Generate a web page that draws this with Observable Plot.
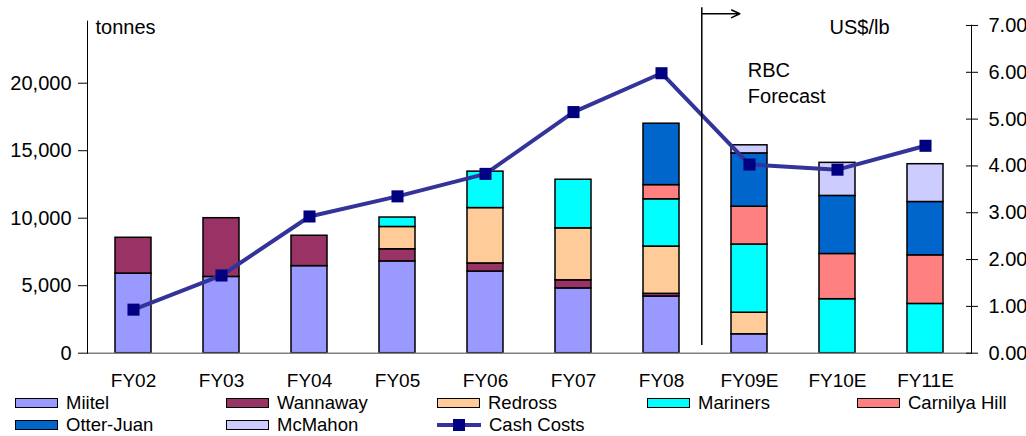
<!DOCTYPE html>
<html>
<head>
<meta charset="utf-8">
<script src="https://cdn.jsdelivr.net/npm/d3@7"></script>
<script src="https://cdn.jsdelivr.net/npm/@observablehq/plot@0.6"></script>
<style>
  html, body { margin: 0; padding: 0; background: #fff; }
  #wrap { width: 1026px; font-family: "Liberation Sans", Arial, sans-serif; }
  #legend { position: relative; width: 1026px; height: 41px; font-size: 18.5px; color: #000; }
  .item { position: absolute; display: flex; align-items: center; height: 20px; line-height: 20px; white-space: nowrap; }
  .sw { width: 41px; height: 8px; border: 1.5px solid #000; margin-right: 8px; }
  .ln { position: relative; width: 44px; height: 4px; margin-right: 8px; }
</style>
</head>
<body>
<div id="wrap"><div id="chart"></div><div id="legend"></div></div>
<script>
const years = ["FY02","FY03","FY04","FY05","FY06","FY07","FY08","FY09E","FY10E","FY11E"];
const mines = ["Miitel","Wannaway","Redross","Mariners","Carnilya Hill","Otter-Juan","McMahon"];
const mineColors = ["#9999FF","#993366","#FFCC99","#00FFFF","#FF8080","#0066CC","#CCCCFF"];
const miitel    = [5900, 5650, 6450, 6800, 6050, 4800, 4200, 1400,    0,    0];
const wannaway  = [2650, 4350, 2250,  900,  600,  600,  200,    0,    0,    0];
const redross   = [   0,    0,    0, 1650, 4100, 3850, 3500, 1600,    0,    0];
const mariners  = [   0,    0,    0,  700, 2700, 3600, 3500, 5050, 4000, 3650];
const carnilya  = [   0,    0,    0,    0,    0,    0, 1050, 2800, 3350, 3600];
const otterJuan = [   0,    0,    0,    0,    0,    0, 4550, 3950, 4300, 3950];
const mcmahon   = [   0,    0,    0,    0,    0,    0,    0,  600, 2450, 2800];
const cashCosts = [0.93, 1.66, 2.92, 3.35, 3.83, 5.15, 5.98, 4.03, 3.92, 4.43];
const leftTicks = [0, 5000, 10000, 15000, 20000];
const rightTicks = [0, 1, 2, 3, 4, 5, 6, 7];

const series = [miitel, wannaway, redross, mariners, carnilya, otterJuan, mcmahon];
const rows = [];
series.forEach((vals, si) => vals.forEach((v, i) => { if (v > 0) rows.push({year: years[i], mine: mines[si], value: v}); }));
const cash = years.map((y, i) => ({year: y, v: cashCosts[i]}));

// right axis (US$/lb) mapped onto left (tonnes) scale
const k = 3468.1;
const yMax = 24593;

const chart = Plot.plot({
  width: 1026,
  height: 393,
  marginLeft: 87,
  marginRight: 55,
  marginTop: 20.7,
  marginBottom: 40.3,
  style: {fontFamily: "Liberation Sans, Arial, sans-serif", fontSize: "19px", background: "white", color: "black"},
  x: {domain: years, paddingInner: 0.59, paddingOuter: 0.295, axis: null},
  y: {domain: [0, yMax], axis: null},
  color: {domain: mines, range: mineColors},
  marks: [
    Plot.barY(rows, {x: "year", y: "value", fill: "mine", order: mines, stroke: "black", strokeWidth: 1.5}),
    Plot.ruleY([0], {stroke: "#808080", strokeWidth: 1.5}),
    Plot.frame({anchor: "left", stroke: "black"}),
    Plot.frame({anchor: "right", stroke: "black", insetTop: 4}),
    Plot.axisY({anchor: "left", ticks: leftTicks, tickSize: 9, tickPadding: 7, tickFormat: d3.format(","), fontSize: 20, label: null}),
    Plot.axisY({anchor: "right", ticks: rightTicks.map(v => v * k), tickSize: 12, dx: -6, tickPadding: 11, tickFormat: d => (d / k).toFixed(2), fontSize: 20, label: null}),
    Plot.axisX({tickSize: 0, tickPadding: 20.5, fontSize: 19, label: null}),
    Plot.line(cash, {x: "year", y: d => d.v * k, stroke: "#333399", strokeWidth: 4}),
    Plot.dot(cash, {x: "year", y: d => d.v * k, symbol: "square", r: 6.8, fill: "#000080", stroke: "none"}),
    Plot.ruleX(["FY09E"], {dx: -47.7, y1: 570, y2: 25585, stroke: "black", strokeWidth: 1.5}),
    Plot.arrow([{a: "FY08", b: "FY09E"}], {x1: "a", x2: "b", y1: 25141, y2: 25141, insetStart: 40.7, insetEnd: 9.7, headLength: 9, headAngle: 50, stroke: "black", strokeWidth: 1.5}),
    Plot.text(["tonnes"], {text: d => d, frameAnchor: "top-left", dx: 8, dy: 6.3, textAnchor: "start", lineAnchor: "middle", fontSize: 20}),
    Plot.text(["US$/lb"], {text: d => d, frameAnchor: "top-right", dx: -82, dy: 6.8, textAnchor: "end", lineAnchor: "middle", fontSize: 20}),
    Plot.text([{t: "RBC\nForecast", x: "FY09E", y: 20126}], {text: "t", x: "x", y: "y", dx: -1.7, textAnchor: "start", lineAnchor: "middle", lineHeight: 1.3, fontSize: 20})
  ]
});
document.getElementById("chart").appendChild(chart);

// legend
const legend = document.getElementById("legend");
const lefts = [15, 226, 437, 647, 857];
const legendItems = mines.map((m, i) => ({label: m, color: mineColors[i]})).concat([{label: "Cash Costs", line: true}]);
legendItems.forEach((it, i) => {
  const row = i < 5 ? 0 : 1;
  const col = i < 5 ? i : i - 5;
  const div = document.createElement("div");
  div.className = "item";
  div.style.left = lefts[col] + "px";
  div.style.top = (row === 0 ? 0 : 22) + "px";
  if (it.line) {
    const ln = document.createElement("div");
    ln.className = "ln";
    ln.style.background = "#333399";
    const sq = document.createElement("div");
    sq.style.cssText = "position:absolute;left:16px;top:-4px;width:12px;height:12px;background:#000080;";
    ln.appendChild(sq);
    div.appendChild(ln);
  } else {
    const sw = document.createElement("div");
    sw.className = "sw";
    sw.style.background = it.color;
    div.appendChild(sw);
  }
  const span = document.createElement("span");
  span.textContent = it.label;
  div.appendChild(span);
  legend.appendChild(div);
});
</script>
</body>
</html>
